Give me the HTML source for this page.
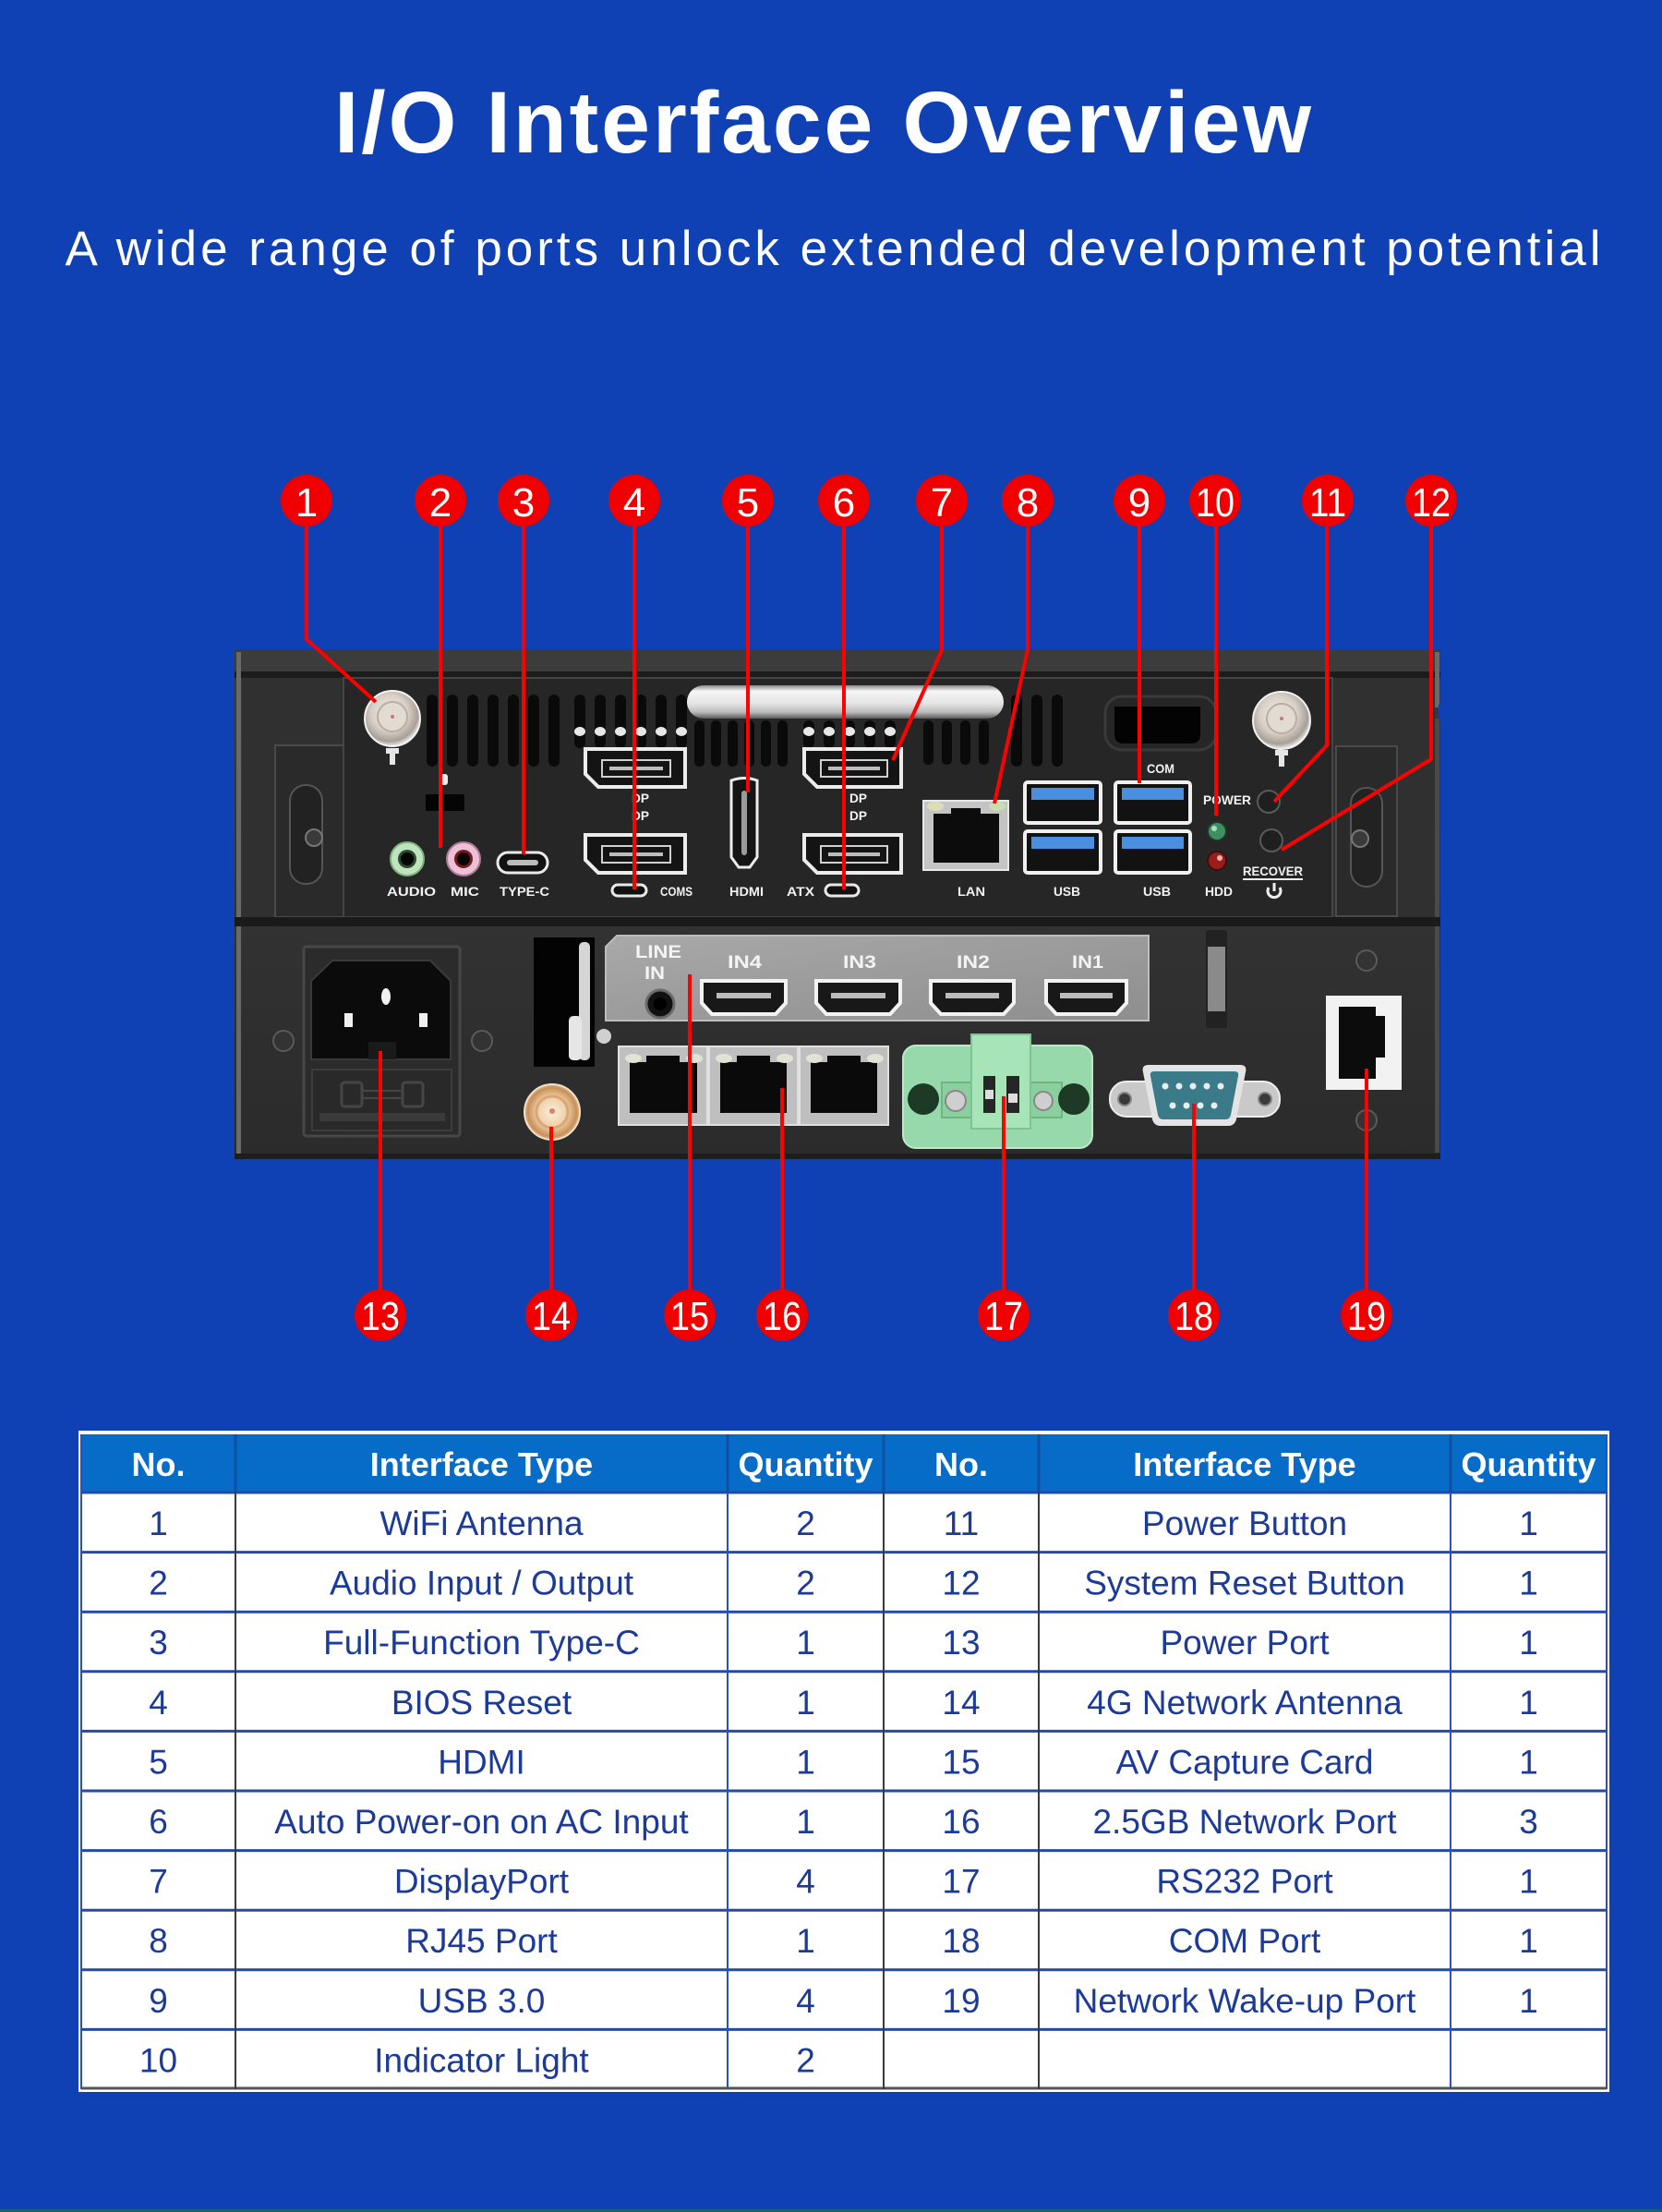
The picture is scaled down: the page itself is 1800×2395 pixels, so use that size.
<!DOCTYPE html>
<html><head><meta charset="utf-8">
<style>
html,body{margin:0;padding:0;background:#0f41b4;width:1800px;height:2395px;overflow:hidden}
svg{display:block}
</style></head><body>
<svg width="1800" height="2395" viewBox="0 0 1800 2395" xmlns="http://www.w3.org/2000/svg" font-family="'Liberation Sans', Arial, sans-serif">
<defs>
 <linearGradient id="handle" x1="0" y1="0" x2="0" y2="1">
  <stop offset="0" stop-color="#8a8a8a"/>
  <stop offset="0.18" stop-color="#f6f6f6"/>
  <stop offset="0.55" stop-color="#e4e4e4"/>
  <stop offset="0.8" stop-color="#bdbdbd"/>
  <stop offset="1" stop-color="#5a5a5a"/>
 </linearGradient>
 <radialGradient id="sma" cx="0.45" cy="0.4" r="0.6">
  <stop offset="0" stop-color="#f4f0ea"/>
  <stop offset="0.55" stop-color="#d8d0c6"/>
  <stop offset="0.85" stop-color="#a8a098"/>
  <stop offset="1" stop-color="#eeeeee"/>
 </radialGradient>
 <radialGradient id="gold" cx="0.5" cy="0.5" r="0.55">
  <stop offset="0" stop-color="#fbeedd"/>
  <stop offset="0.5" stop-color="#efcfa4"/>
  <stop offset="0.8" stop-color="#c98f5a"/>
  <stop offset="1" stop-color="#f3dcc0"/>
 </radialGradient>
 <linearGradient id="plate" x1="0" y1="0" x2="1" y2="1">
  <stop offset="0" stop-color="#a9a9a9"/>
  <stop offset="1" stop-color="#8e8e8e"/>
 </linearGradient>
 <linearGradient id="chassis" x1="0" y1="0" x2="0" y2="1">
  <stop offset="0" stop-color="#3a3a3a"/>
  <stop offset="1" stop-color="#2b2b2b"/>
 </linearGradient>
</defs>

<rect width="1800" height="2395" fill="#0f41b4"/>
<rect x="0" y="2392" width="1800" height="3" fill="#1a5f74"/>

<!-- Title -->
<text x="891" y="165" font-size="95" font-weight="bold" fill="#ffffff" text-anchor="middle" textLength="1058" lengthAdjust="spacing">I/O Interface Overview</text>
<text x="902" y="287" font-size="53" fill="#ffffff" text-anchor="middle" textLength="1663" lengthAdjust="spacing">A wide range of ports unlock extended development potential</text>

<!-- ================= DEVICE ================= -->
<g>
 <rect x="254" y="703" width="1306" height="552" fill="url(#chassis)"/>
 <rect x="254" y="703" width="1306" height="26" fill="#3c3c3c"/>
 <rect x="254" y="727" width="1306" height="7" fill="#1c1c1c"/>
 <rect x="256" y="706" width="5" height="545" fill="#6a6a6a"/>
 <rect x="1554" y="706" width="5" height="60" fill="#6a6a6a"/>
 <rect x="1554" y="778" width="5" height="470" fill="#4a4a4a"/>
 <rect x="1558" y="763" width="3" height="14" fill="#0f41b4"/>
 <rect x="254" y="1249" width="1306" height="6" fill="#1e1e1e"/>

 <rect x="262" y="734" width="110" height="260" fill="#303030"/>
 <rect x="298" y="807" width="74" height="186" fill="#2a2a2a" stroke="#4a4a4a" stroke-width="2"/>
 <rect x="314" y="850" width="35" height="107" rx="17" fill="#222" stroke="#555" stroke-width="2"/>
 <circle cx="340" cy="907" r="9" fill="#3a3a3a" stroke="#777" stroke-width="2"/>
 <rect x="1443" y="734" width="111" height="260" fill="#303030"/>
 <rect x="1447" y="808" width="66" height="184" fill="#2a2a2a" stroke="#4a4a4a" stroke-width="2"/>
 <rect x="1463" y="853" width="34" height="107" rx="17" fill="#222" stroke="#555" stroke-width="2"/>
 <circle cx="1473" cy="908" r="9" fill="#3a3a3a" stroke="#777" stroke-width="2"/>

 <rect x="372" y="734" width="1071" height="259" fill="#262626" stroke="#454545" stroke-width="2"/>
 <rect x="254" y="993" width="1306" height="10" fill="#1a1a1a"/>

 <g fill="#0a0a0a">
  <rect x="462" y="752" width="12" height="78" rx="6"/>
  <rect x="484" y="752" width="12" height="78" rx="6"/>
  <rect x="506" y="752" width="12" height="78" rx="6"/>
  <rect x="528" y="752" width="12" height="78" rx="6"/>
  <rect x="550" y="752" width="12" height="78" rx="6"/>
  <rect x="572" y="752" width="12" height="78" rx="6"/>
  <rect x="594" y="752" width="12" height="78" rx="6"/>
  <rect x="622" y="752" width="12" height="58" rx="6"/>
  <rect x="644" y="752" width="12" height="58" rx="6"/>
  <rect x="666" y="752" width="12" height="58" rx="6"/>
  <rect x="688" y="752" width="12" height="58" rx="6"/>
  <rect x="710" y="752" width="12" height="58" rx="6"/>
  <rect x="732" y="752" width="12" height="58" rx="6"/>
  <rect x="752" y="780" width="11" height="50" rx="5"/>
  <rect x="770" y="780" width="11" height="50" rx="5"/>
  <rect x="788" y="780" width="11" height="50" rx="5"/>
  <rect x="806" y="780" width="11" height="50" rx="5"/>
  <rect x="824" y="780" width="11" height="50" rx="5"/>
  <rect x="842" y="780" width="11" height="50" rx="5"/>
  <rect x="870" y="780" width="12" height="30" rx="6"/>
  <rect x="892" y="780" width="12" height="30" rx="6"/>
  <rect x="914" y="780" width="12" height="30" rx="6"/>
  <rect x="936" y="780" width="12" height="30" rx="6"/>
  <rect x="958" y="780" width="12" height="30" rx="6"/>
  <rect x="1000" y="780" width="11" height="48" rx="5"/>
  <rect x="1020" y="780" width="11" height="48" rx="5"/>
  <rect x="1040" y="780" width="11" height="48" rx="5"/>
  <rect x="1060" y="780" width="11" height="48" rx="5"/>
  <rect x="1095" y="752" width="12" height="78" rx="6"/>
  <rect x="1117" y="752" width="12" height="78" rx="6"/>
  <rect x="1139" y="752" width="12" height="78" rx="6"/>
 </g>
 <g fill="#e8e8e8">
  <ellipse cx="628" cy="792" rx="6" ry="5"/>
  <ellipse cx="650" cy="792" rx="6" ry="5"/>
  <ellipse cx="672" cy="792" rx="6" ry="5"/>
  <ellipse cx="694" cy="792" rx="6" ry="5"/>
  <ellipse cx="716" cy="792" rx="6" ry="5"/>
  <ellipse cx="738" cy="792" rx="6" ry="5"/>
  <ellipse cx="876" cy="792" rx="6" ry="5"/>
  <ellipse cx="898" cy="792" rx="6" ry="5"/>
  <ellipse cx="920" cy="792" rx="6" ry="5"/>
  <ellipse cx="942" cy="792" rx="6" ry="5"/>
  <ellipse cx="964" cy="792" rx="6" ry="5"/>
 </g>

 <rect x="744" y="742" width="343" height="36" rx="18" fill="url(#handle)"/>

 <circle cx="425" cy="778" r="30" fill="url(#sma)" stroke="#f2f2f2" stroke-width="2"/>
 <circle cx="425" cy="776" r="16" fill="#e2dbd3" stroke="#b9afa5" stroke-width="2"/>
 <circle cx="425" cy="776" r="2" fill="#c77"/>
 <path d="M418 810 h14 v6 h-4 v12 h-6 v-12 h-4 z" fill="#e6e6e6"/>
 <circle cx="1388" cy="780" r="31" fill="url(#sma)" stroke="#f2f2f2" stroke-width="2"/>
 <circle cx="1388" cy="778" r="16" fill="#e2dbd3" stroke="#b9afa5" stroke-width="2"/>
 <circle cx="1388" cy="778" r="2" fill="#c77"/>
 <path d="M1381 812 h14 v6 h-4 v12 h-6 v-12 h-4 z" fill="#e6e6e6"/>

 <rect x="477" y="838" width="8" height="12" rx="3" fill="#eee"/>
 <rect x="461" y="860" width="42" height="18" fill="#050505"/>

 <circle cx="441" cy="930" r="18" fill="#bfe3bf" stroke="#7fb27f" stroke-width="2"/>
 <circle cx="441" cy="930" r="10" fill="#2a4a2a"/>
 <circle cx="441" cy="930" r="7" fill="#050505"/>
 <circle cx="502" cy="930" r="18" fill="#ecc0d6" stroke="#b07a94" stroke-width="2"/>
 <circle cx="502" cy="930" r="10" fill="#7a1a1a"/>
 <circle cx="502" cy="930" r="7" fill="#050505"/>

 <rect x="539" y="923" width="54" height="22" rx="11" fill="#111" stroke="#eaeaea" stroke-width="3"/>
 <rect x="549" y="931" width="34" height="6" rx="3" fill="#bbb"/>

 <g fill="#141414" stroke="#ececec" stroke-width="4">
  <path d="M634 811 H742 V852 H648 L634 838 Z"/>
  <path d="M634 904 H742 V945 H648 L634 931 Z"/>
  <path d="M871 811 H976 V852 H885 L871 838 Z"/>
  <path d="M871 904 H976 V945 H885 L871 931 Z"/>
 </g>
 <g fill="none" stroke="#cfcfcf" stroke-width="2">
  <rect x="652" y="823" width="74" height="18"/>
  <rect x="652" y="916" width="74" height="18"/>
  <rect x="889" y="823" width="72" height="18"/>
  <rect x="889" y="916" width="72" height="18"/>
 </g>
 <g fill="#bdbdbd">
  <rect x="660" y="830" width="58" height="4"/>
  <rect x="660" y="923" width="58" height="4"/>
  <rect x="897" y="830" width="56" height="4"/>
  <rect x="897" y="923" width="56" height="4"/>
 </g>

 <path d="M792 845 Q806 840 820 845 V928 L812 939 H800 L792 928 Z" fill="#141414" stroke="#ececec" stroke-width="3"/>
 <rect x="803" y="856" width="6" height="70" rx="3" fill="#9a9a9a"/>

 <rect x="663" y="958" width="37" height="12" rx="6" fill="#111" stroke="#e8e8e8" stroke-width="3"/>
 <rect x="894" y="958" width="36" height="12" rx="6" fill="#111" stroke="#e8e8e8" stroke-width="3"/>

 <rect x="1000" y="867" width="92" height="75" fill="#c4c4c4" stroke="#e8e8e8" stroke-width="2"/>
 <path d="M1011 881 H1030 V875 H1062 V881 H1082 V934 H1011 Z" fill="#0c0c0c"/>
 <ellipse cx="1013" cy="873" rx="9" ry="5" fill="#dcdcb8"/>
 <ellipse cx="1080" cy="873" rx="9" ry="5" fill="#c8e0b0"/>

 <g>
  <rect x="1110" y="847" width="82" height="44" rx="3" fill="#121212" stroke="#f0f0f0" stroke-width="4"/>
  <rect x="1117" y="853" width="68" height="13" fill="#4a8ee0"/>
  <rect x="1208" y="847" width="81" height="44" rx="3" fill="#121212" stroke="#f0f0f0" stroke-width="4"/>
  <rect x="1215" y="853" width="67" height="13" fill="#4a8ee0"/>
  <rect x="1110" y="900" width="82" height="45" rx="3" fill="#121212" stroke="#f0f0f0" stroke-width="4"/>
  <rect x="1117" y="906" width="68" height="13" fill="#4a8ee0"/>
  <rect x="1208" y="900" width="81" height="45" rx="3" fill="#121212" stroke="#f0f0f0" stroke-width="4"/>
  <rect x="1215" y="906" width="67" height="13" fill="#4a8ee0"/>
 </g>

 <rect x="1197" y="754" width="120" height="58" rx="18" fill="none" stroke="#3a3a3a" stroke-width="3"/>
 <path d="M1207 765 H1300 V795 Q1300 805 1290 805 H1217 Q1207 805 1207 795 Z" fill="#030303"/>

 <circle cx="1318" cy="900" r="10" fill="#3f8f62" stroke="#1d3a28" stroke-width="2"/>
 <circle cx="1315" cy="897" r="3" fill="#aee0c0"/>
 <circle cx="1318" cy="932" r="10" fill="#9c1c1c" stroke="#3a1010" stroke-width="2"/>
 <circle cx="1321" cy="929" r="3" fill="#f2b0b0"/>
 <circle cx="1374" cy="868" r="12" fill="#1f1f1f" stroke="#5a5a5a" stroke-width="2"/>
 <circle cx="1377" cy="910" r="12" fill="#1f1f1f" stroke="#5a5a5a" stroke-width="2"/>
 <rect x="1346" y="951" width="65" height="2" fill="#eee"/>
 <path d="M1374 961 A7 7 0 1 0 1386 961" fill="none" stroke="#eee" stroke-width="3"/>
 <rect x="1378.5" y="956" width="3" height="9" fill="#eee"/>

 <g fill="#f2f2f2" font-weight="bold" font-size="14">
  <text x="419" y="970" textLength="53" lengthAdjust="spacingAndGlyphs">AUDIO</text>
  <text x="488" y="970" textLength="31" lengthAdjust="spacingAndGlyphs">MIC</text>
  <text x="541" y="970" textLength="54" lengthAdjust="spacingAndGlyphs">TYPE-C</text>
  <text x="715" y="970" textLength="35" lengthAdjust="spacingAndGlyphs">COMS</text>
  <text x="790" y="970" textLength="37" lengthAdjust="spacingAndGlyphs">HDMI</text>
  <text x="852" y="970" textLength="30" lengthAdjust="spacingAndGlyphs">ATX</text>
  <text x="1037" y="970" textLength="30" lengthAdjust="spacingAndGlyphs">LAN</text>
  <text x="1141" y="970" textLength="29" lengthAdjust="spacingAndGlyphs">USB</text>
  <text x="1238" y="970" textLength="30" lengthAdjust="spacingAndGlyphs">USB</text>
  <text x="1305" y="970" textLength="30" lengthAdjust="spacingAndGlyphs">HDD</text>
  <text x="1242" y="837" textLength="30" lengthAdjust="spacingAndGlyphs">COM</text>
  <text x="1303" y="871" textLength="52" lengthAdjust="spacingAndGlyphs">POWER</text>
  <text x="1346" y="948" textLength="65" lengthAdjust="spacingAndGlyphs">RECOVER</text>
  <text x="684" y="869" textLength="19" lengthAdjust="spacingAndGlyphs">DP</text>
  <text x="684" y="888" textLength="19" lengthAdjust="spacingAndGlyphs">DP</text>
  <text x="920" y="869" textLength="19" lengthAdjust="spacingAndGlyphs">DP</text>
  <text x="920" y="888" textLength="19" lengthAdjust="spacingAndGlyphs">DP</text>
 </g>

 <rect x="329" y="1025" width="169" height="205" rx="3" fill="#2b2b2b" stroke="#474747" stroke-width="3"/>
 <path d="M360 1040 H466 L488 1062 V1147 H337 V1062 Z" fill="#0b0b0b" stroke="#3a3a3a" stroke-width="2"/>
 <rect x="373" y="1097" width="9" height="15" fill="#f0f0f0"/>
 <rect x="454" y="1097" width="9" height="15" fill="#f0f0f0"/>
 <ellipse cx="418" cy="1079" rx="5" ry="9" fill="#f0f0f0"/>
 <rect x="399" y="1128" width="30" height="19" fill="#1a1a1a"/>
 <rect x="338" y="1158" width="151" height="66" fill="#292929" stroke="#3d3d3d" stroke-width="2"/>
 <rect x="370" y="1172" width="22" height="26" rx="3" fill="none" stroke="#464646" stroke-width="3"/>
 <rect x="436" y="1172" width="22" height="26" rx="3" fill="none" stroke="#464646" stroke-width="3"/>
 <rect x="392" y="1181" width="44" height="8" fill="none" stroke="#464646" stroke-width="2"/>
 <rect x="346" y="1205" width="136" height="9" fill="#3a3a3a"/>
 <circle cx="307" cy="1127" r="11" fill="#333" stroke="#5a5a5a" stroke-width="2"/>
 <circle cx="522" cy="1127" r="11" fill="#333" stroke="#5a5a5a" stroke-width="2"/>

 <rect x="578" y="1015" width="66" height="140" fill="#030303"/>
 <rect x="627" y="1020" width="12" height="128" rx="5" fill="#d6d6d6"/>
 <rect x="616" y="1100" width="14" height="48" rx="5" fill="#e6e6e6"/>
 <circle cx="654" cy="1122" r="8" fill="#d0d0d0"/>

 <circle cx="598" cy="1204" r="30" fill="url(#gold)" stroke="#f1e0c8" stroke-width="2"/>
 <circle cx="598" cy="1204" r="17" fill="none" stroke="#d9a777" stroke-width="3"/>
 <circle cx="598" cy="1203" r="3" fill="#e08060"/>

 <path d="M668 1013 H1244 V1105 H656 V1025 Z" fill="url(#plate)" stroke="#bdbdbd" stroke-width="2"/>
 <g fill="#f4f4f4" font-weight="bold">
  <text x="688" y="1037" font-size="19" textLength="50" lengthAdjust="spacingAndGlyphs">LINE</text>
  <text x="698" y="1060" font-size="19" textLength="22" lengthAdjust="spacingAndGlyphs">IN</text>
  <text x="788" y="1048" font-size="19" textLength="37" lengthAdjust="spacingAndGlyphs">IN4</text>
  <text x="913" y="1048" font-size="19" textLength="36" lengthAdjust="spacingAndGlyphs">IN3</text>
  <text x="1036" y="1048" font-size="19" textLength="36" lengthAdjust="spacingAndGlyphs">IN2</text>
  <text x="1161" y="1048" font-size="19" textLength="34" lengthAdjust="spacingAndGlyphs">IN1</text>
 </g>
 <circle cx="715" cy="1087" r="15" fill="#111" stroke="#6a6a6a" stroke-width="3"/>
 <circle cx="715" cy="1087" r="7" fill="#000"/>
 <g fill="#181818" stroke="#f2f2f2" stroke-width="4">
  <path d="M760 1062 H851 V1086 L840 1098 H771 L760 1086 Z"/>
  <path d="M884 1062 H975 V1086 L964 1098 H895 L884 1086 Z"/>
  <path d="M1008 1062 H1098 V1086 L1087 1098 H1019 L1008 1086 Z"/>
  <path d="M1133 1062 H1220 V1086 L1209 1098 H1144 L1133 1086 Z"/>
 </g>
 <g fill="#bbbbbb">
  <rect x="776" y="1075" width="59" height="6"/>
  <rect x="900" y="1075" width="59" height="6"/>
  <rect x="1024" y="1075" width="58" height="6"/>
  <rect x="1148" y="1075" width="57" height="6"/>
 </g>

 <g>
  <rect x="670" y="1133" width="96" height="85" fill="#bfbfbf" stroke="#e0e0e0" stroke-width="2"/>
  <path d="M682 1150 H700 V1143 H736 V1150 H755 V1205 H682 Z" fill="#0a0a0a"/>
  <ellipse cx="686" cy="1146" rx="9" ry="5" fill="#e2e2d6"/>
  <ellipse cx="752" cy="1146" rx="9" ry="5" fill="#e2e2d6"/>
  <rect x="768" y="1133" width="96" height="85" fill="#bfbfbf" stroke="#e0e0e0" stroke-width="2"/>
  <path d="M780 1150 H798 V1143 H834 V1150 H852 V1205 H780 Z" fill="#0a0a0a"/>
  <ellipse cx="784" cy="1146" rx="9" ry="5" fill="#e2e2d6"/>
  <ellipse cx="850" cy="1146" rx="9" ry="5" fill="#e2e2d6"/>
  <rect x="866" y="1133" width="96" height="85" fill="#bfbfbf" stroke="#e0e0e0" stroke-width="2"/>
  <path d="M878 1150 H896 V1143 H932 V1150 H950 V1205 H878 Z" fill="#0a0a0a"/>
  <ellipse cx="882" cy="1146" rx="9" ry="5" fill="#e2e2d6"/>
  <ellipse cx="948" cy="1146" rx="9" ry="5" fill="#e2e2d6"/>
 </g>

 <rect x="978" y="1132" width="205" height="111" rx="14" fill="#97d9aa" stroke="#b8ecc6" stroke-width="2"/>
 <rect x="1020" y="1172" width="130" height="38" fill="#8ccf9f" stroke="#6fb584" stroke-width="2"/>
 <rect x="1052" y="1120" width="64" height="102" fill="#a7e4b8" stroke="#7cc495" stroke-width="2"/>
 <rect x="1065" y="1165" width="13" height="40" fill="#262626"/>
 <rect x="1090" y="1165" width="14" height="40" fill="#262626"/>
 <rect x="1067" y="1180" width="9" height="10" fill="#ddd"/>
 <rect x="1092" y="1184" width="10" height="10" fill="#ddd"/>
 <circle cx="1000" cy="1190" r="17" fill="#1c3a26"/>
 <circle cx="1163" cy="1190" r="17" fill="#1c3a26"/>
 <circle cx="1035" cy="1192" r="11" fill="#cfcfcf" stroke="#888" stroke-width="2"/>
 <circle cx="1130" cy="1192" r="10" fill="#cfcfcf" stroke="#888" stroke-width="2"/>

 <rect x="1202" y="1171" width="184" height="38" rx="18" fill="#c9c9c9" stroke="#eee" stroke-width="2"/>
 <circle cx="1218" cy="1190" r="7" fill="#3a3a3a" stroke="#888" stroke-width="2"/>
 <circle cx="1370" cy="1190" r="7" fill="#3a3a3a" stroke="#888" stroke-width="2"/>
 <path d="M1244 1153 H1343 Q1351 1153 1349 1161 L1339 1212 Q1337 1219 1330 1219 H1257 Q1250 1219 1248 1212 L1238 1161 Q1236 1153 1244 1153 Z" fill="#e4e4e4"/>
 <path d="M1250 1160 H1337 Q1342 1160 1341 1165 L1333 1207 Q1332 1212 1327 1212 H1260 Q1255 1212 1254 1207 L1246 1165 Q1245 1160 1250 1160 Z" fill="#3b7a89"/>
 <g fill="#e6eef0">
  <circle cx="1262" cy="1176" r="3.5"/><circle cx="1277" cy="1176" r="3.5"/><circle cx="1292" cy="1176" r="3.5"/><circle cx="1307" cy="1176" r="3.5"/><circle cx="1322" cy="1176" r="3.5"/>
  <circle cx="1270" cy="1197" r="3.5"/><circle cx="1285" cy="1197" r="3.5"/><circle cx="1300" cy="1197" r="3.5"/><circle cx="1315" cy="1197" r="3.5"/>
 </g>

 <rect x="1306" y="1007" width="23" height="106" rx="3" fill="#222"/>
 <rect x="1308" y="1025" width="19" height="70" fill="#8a8a8a"/>

 <rect x="1436" y="1078" width="82" height="102" fill="#f2f2f2"/>
 <path d="M1450 1090 H1490 V1100 H1500 V1145 H1490 V1168 H1450 Z" fill="#0c0c0c"/>
 <circle cx="1480" cy="1040" r="11" fill="#333" stroke="#5a5a5a" stroke-width="2"/>
 <circle cx="1480" cy="1213" r="11" fill="#333" stroke="#5a5a5a" stroke-width="2"/>
</g>

<!-- ================= LEADER LINES ================= -->
<g stroke="#ff0000" stroke-width="4" fill="none" stroke-linejoin="round">
 <polyline points="332,560 332,692 407,760"/>
 <line x1="477" y1="560" x2="477" y2="918"/>
 <line x1="567" y1="560" x2="567" y2="925"/>
 <line x1="687" y1="560" x2="687" y2="963"/>
 <line x1="810" y1="560" x2="810" y2="858"/>
 <line x1="914" y1="560" x2="914" y2="963"/>
 <polyline points="1020,560 1020,704 967,823"/>
 <polyline points="1113,560 1113,703 1077,870"/>
 <line x1="1234" y1="560" x2="1234" y2="848"/>
 <line x1="1317" y1="560" x2="1317" y2="883"/>
 <polyline points="1437,560 1437,807 1380,868"/>
 <polyline points="1550,560 1550,822 1388,920"/>

 <line x1="412" y1="1138" x2="412" y2="1410"/>
 <line x1="597" y1="1220" x2="597" y2="1410"/>
 <line x1="747" y1="1055" x2="747" y2="1410"/>
 <line x1="847" y1="1178" x2="847" y2="1410"/>
 <line x1="1087" y1="1187" x2="1087" y2="1410"/>
 <line x1="1293" y1="1195" x2="1293" y2="1410"/>
 <line x1="1480" y1="1157" x2="1480" y2="1410"/>
</g>

<!-- ================= BADGES ================= -->
<g fill="#f00000">
 <ellipse cx="332" cy="542" rx="28" ry="28"/>
 <ellipse cx="477" cy="542" rx="28" ry="28"/>
 <ellipse cx="567" cy="542" rx="28" ry="28"/>
 <ellipse cx="687" cy="542" rx="28" ry="28"/>
 <ellipse cx="810" cy="542" rx="28" ry="28"/>
 <ellipse cx="914" cy="542" rx="28" ry="28"/>
 <ellipse cx="1020" cy="542" rx="28" ry="28"/>
 <ellipse cx="1113" cy="542" rx="28" ry="28"/>
 <ellipse cx="1234" cy="542" rx="28" ry="28"/>
 <ellipse cx="1316" cy="542" rx="28" ry="28"/>
 <ellipse cx="1438" cy="542" rx="28" ry="28"/>
 <ellipse cx="1550" cy="542" rx="28" ry="28"/>
 <ellipse cx="412" cy="1424" rx="28" ry="28"/>
 <ellipse cx="597" cy="1424" rx="28" ry="28"/>
 <ellipse cx="747" cy="1424" rx="28" ry="28"/>
 <ellipse cx="847" cy="1424" rx="28" ry="28"/>
 <ellipse cx="1087" cy="1424" rx="28" ry="28"/>
 <ellipse cx="1293" cy="1424" rx="28" ry="28"/>
 <ellipse cx="1480" cy="1424" rx="28" ry="28"/>
</g>
<g fill="#ffffff" font-size="44" text-anchor="middle">
 <text x="332" y="559">1</text>
 <text x="477" y="559">2</text>
 <text x="567" y="559">3</text>
 <text x="687" y="559">4</text>
 <text x="810" y="559">5</text>
 <text x="914" y="559">6</text>
 <text x="1020" y="559">7</text>
 <text x="1113" y="559">8</text>
 <text x="1234" y="559">9</text>
 <text x="1316" y="559" textLength="42" lengthAdjust="spacingAndGlyphs">10</text>
 <text x="1438" y="559" textLength="40" lengthAdjust="spacingAndGlyphs">11</text>
 <text x="1550" y="559" textLength="42" lengthAdjust="spacingAndGlyphs">12</text>
 <text x="412" y="1440" textLength="42" lengthAdjust="spacingAndGlyphs">13</text>
 <text x="597" y="1440" textLength="42" lengthAdjust="spacingAndGlyphs">14</text>
 <text x="747" y="1440" textLength="42" lengthAdjust="spacingAndGlyphs">15</text>
 <text x="847" y="1440" textLength="42" lengthAdjust="spacingAndGlyphs">16</text>
 <text x="1087" y="1440" textLength="42" lengthAdjust="spacingAndGlyphs">17</text>
 <text x="1293" y="1440" textLength="42" lengthAdjust="spacingAndGlyphs">18</text>
 <text x="1480" y="1440" textLength="42" lengthAdjust="spacingAndGlyphs">19</text>
</g>

<!-- ================= TABLE ================= -->
<rect x="85" y="1549" width="1658" height="716" fill="#ffffff"/>
<rect x="88" y="1553" width="1652" height="63" fill="#076bc8"/>
<g stroke="#2549a8" stroke-width="3">
 <line x1="88" y1="1616" x2="1740" y2="1616"/>
 <line x1="88" y1="1680.6" x2="1740" y2="1680.6"/>
 <line x1="88" y1="1745.2" x2="1740" y2="1745.2"/>
 <line x1="88" y1="1809.8" x2="1740" y2="1809.8"/>
 <line x1="88" y1="1874.4" x2="1740" y2="1874.4"/>
 <line x1="88" y1="1939" x2="1740" y2="1939"/>
 <line x1="88" y1="2003.6" x2="1740" y2="2003.6"/>
 <line x1="88" y1="2068.2" x2="1740" y2="2068.2"/>
 <line x1="88" y1="2132.8" x2="1740" y2="2132.8"/>
 <line x1="88" y1="2197.4" x2="1740" y2="2197.4"/>
</g>
<line x1="88" y1="2261" x2="1740" y2="2261" stroke="#555" stroke-width="3"/>
<g stroke-width="2">
 <line x1="255" y1="1616" x2="255" y2="2262" stroke="#3a3a3a"/>
 <line x1="788" y1="1616" x2="788" y2="2262" stroke="#2a50c0"/>
 <line x1="957" y1="1616" x2="957" y2="2262" stroke="#3a3a3a"/>
 <line x1="1125" y1="1616" x2="1125" y2="2262" stroke="#3a3a3a"/>
 <line x1="1571" y1="1616" x2="1571" y2="2262" stroke="#2a50c0"/>
 <line x1="88" y1="1553" x2="88" y2="2262" stroke="#2a50c0"/>
 <line x1="1740" y1="1553" x2="1740" y2="2262" stroke="#2a50c0"/>
</g>
<g stroke="#0f4fa2" stroke-width="3">
 <line x1="255" y1="1553" x2="255" y2="1616"/>
 <line x1="788" y1="1553" x2="788" y2="1616"/>
 <line x1="957" y1="1553" x2="957" y2="1616"/>
 <line x1="1125" y1="1553" x2="1125" y2="1616"/>
 <line x1="1571" y1="1553" x2="1571" y2="1616"/>
</g>

<g fill="#ffffff" font-size="36" font-weight="bold" text-anchor="middle">
 <text x="171.5" y="1598">No.</text>
 <text x="521.5" y="1598">Interface Type</text>
 <text x="872.5" y="1598">Quantity</text>
 <text x="1041" y="1598">No.</text>
 <text x="1348" y="1598">Interface Type</text>
 <text x="1655.5" y="1598">Quantity</text>
</g>

<g fill="#1c3a98" font-size="37" text-anchor="middle">
 <text x="171.5" y="1662">1</text><text x="521.5" y="1662">WiFi Antenna</text><text x="872.5" y="1662">2</text>
 <text x="1041" y="1662">11</text><text x="1348" y="1662">Power Button</text><text x="1655.5" y="1662">1</text>

 <text x="171.5" y="1726.6">2</text><text x="521.5" y="1726.6">Audio Input / Output</text><text x="872.5" y="1726.6">2</text>
 <text x="1041" y="1726.6">12</text><text x="1348" y="1726.6">System Reset Button</text><text x="1655.5" y="1726.6">1</text>

 <text x="171.5" y="1791.2">3</text><text x="521.5" y="1791.2">Full-Function Type-C</text><text x="872.5" y="1791.2">1</text>
 <text x="1041" y="1791.2">13</text><text x="1348" y="1791.2">Power Port</text><text x="1655.5" y="1791.2">1</text>

 <text x="171.5" y="1855.8">4</text><text x="521.5" y="1855.8">BIOS Reset</text><text x="872.5" y="1855.8">1</text>
 <text x="1041" y="1855.8">14</text><text x="1348" y="1855.8">4G Network Antenna</text><text x="1655.5" y="1855.8">1</text>

 <text x="171.5" y="1920.4">5</text><text x="521.5" y="1920.4">HDMI</text><text x="872.5" y="1920.4">1</text>
 <text x="1041" y="1920.4">15</text><text x="1348" y="1920.4">AV Capture Card</text><text x="1655.5" y="1920.4">1</text>

 <text x="171.5" y="1985">6</text><text x="521.5" y="1985">Auto Power-on on AC Input</text><text x="872.5" y="1985">1</text>
 <text x="1041" y="1985">16</text><text x="1348" y="1985">2.5GB Network Port</text><text x="1655.5" y="1985">3</text>

 <text x="171.5" y="2049.6">7</text><text x="521.5" y="2049.6">DisplayPort</text><text x="872.5" y="2049.6">4</text>
 <text x="1041" y="2049.6">17</text><text x="1348" y="2049.6">RS232 Port</text><text x="1655.5" y="2049.6">1</text>

 <text x="171.5" y="2114.2">8</text><text x="521.5" y="2114.2">RJ45 Port</text><text x="872.5" y="2114.2">1</text>
 <text x="1041" y="2114.2">18</text><text x="1348" y="2114.2">COM Port</text><text x="1655.5" y="2114.2">1</text>

 <text x="171.5" y="2178.8">9</text><text x="521.5" y="2178.8">USB 3.0</text><text x="872.5" y="2178.8">4</text>
 <text x="1041" y="2178.8">19</text><text x="1348" y="2178.8">Network Wake-up Port</text><text x="1655.5" y="2178.8">1</text>

 <text x="171.5" y="2243.4">10</text><text x="521.5" y="2243.4">Indicator Light</text><text x="872.5" y="2243.4">2</text>
</g>
</svg>
</body></html>
